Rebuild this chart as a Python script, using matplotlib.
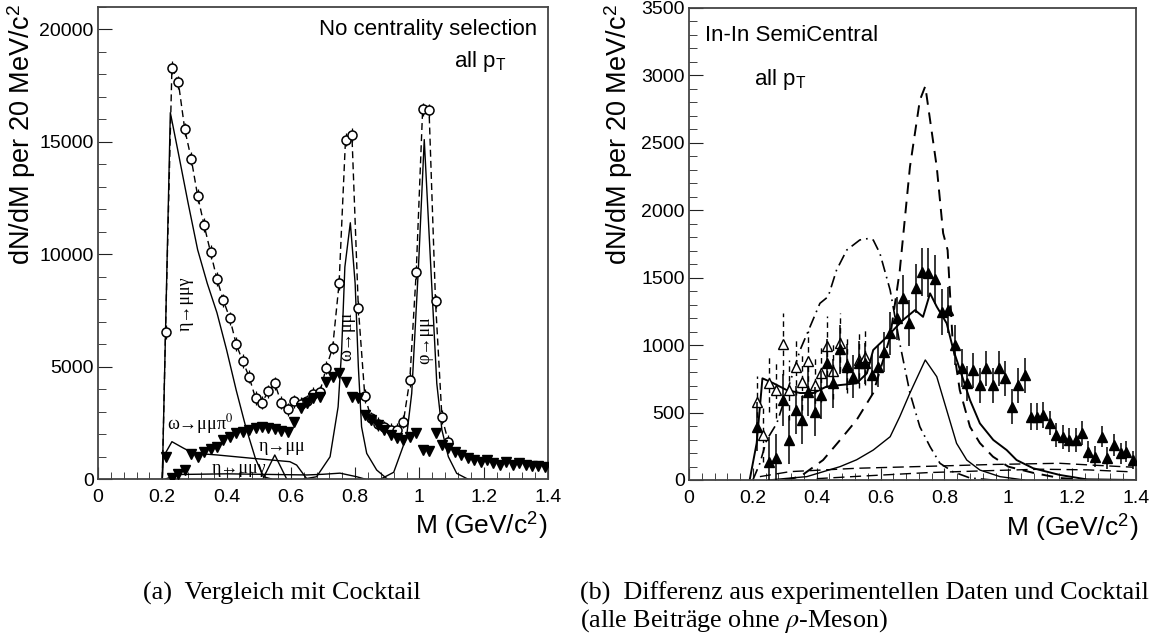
import matplotlib
matplotlib.use("Agg")
import matplotlib.pyplot as plt
from matplotlib.ticker import MultipleLocator

plt.rcParams["font.family"] = ["Liberation Sans", "DejaVu Sans"]
plt.rcParams["mathtext.fontset"] = "stix"

# ---------------- panel (a): data vs cocktail ----------------
m_a = [0.21, 0.23, 0.25, 0.27, 0.29, 0.31, 0.33, 0.35, 0.37, 0.39,
       0.41, 0.43, 0.45, 0.47, 0.49, 0.51, 0.53, 0.55, 0.57, 0.59,
       0.61, 0.63, 0.65, 0.67, 0.69, 0.71, 0.73, 0.75, 0.77, 0.79,
       0.81, 0.83, 0.85, 0.87, 0.89, 0.91, 0.93, 0.95, 0.97, 0.99,
       1.01, 1.03, 1.05, 1.07, 1.09]
cocktail_a = [6550, 18300, 17650, 15550, 14250, 12600, 11300, 10100, 8900, 7950,
              7150, 6000, 5250, 4550, 3600, 3400, 3900, 4250, 3400, 3100,
              3450, 3350, 3450, 3800, 3850, 4950, 5850, 8700, 15100, 15300,
              7600, 3700, 2700, 2450, 2300, 2200, 2200, 2550, 4400, 9200,
              16450, 16400, 7900, 2750, 1650]

m_diff_a = [0.21, 0.23, 0.25, 0.27, 0.29, 0.31, 0.33, 0.35, 0.37, 0.39,
            0.41, 0.43, 0.45, 0.47, 0.49, 0.51, 0.53, 0.55, 0.57, 0.59,
            0.61, 0.63, 0.65, 0.67, 0.69, 0.71, 0.73, 0.75, 0.77, 0.79,
            0.81, 0.83, 0.85, 0.87, 0.89, 0.91, 0.93, 0.95, 0.97, 0.99,
            1.01, 1.03, 1.05, 1.07, 1.09, 1.11, 1.13, 1.15, 1.17, 1.19,
            1.21, 1.23, 1.25, 1.27, 1.29, 1.31, 1.33, 1.35, 1.37, 1.39]
diff_a = [990, 60, 220, 400, 1110, 990, 1210, 1330, 1440, 1730,
          1880, 2060, 2100, 2180, 2250, 2330, 2260, 2220, 2150, 2100,
          2550, 3140, 3370, 3600, 3660, 4320, 4550, 4700, 4320, 3660,
          3590, 2840, 2620, 2400, 2180, 1960, 1810, 1730, 1880, 2030,
          1290, 1250, 2030, 1510, 1360, 1210, 1070, 920, 840, 770,
          840, 700, 620, 770, 620, 700, 620, 590, 560, 520]

m_eta_dal = [0.20, 0.225, 0.25, 0.28, 0.31, 0.34, 0.37, 0.40, 0.43, 0.46, 0.49, 0.515, 0.54]
eta_dal = [0, 16300, 14500, 12300, 10200, 8700, 7400, 5750, 3950, 2300, 900, 100, 0]

m_omega_dal = [0.20, 0.203, 0.23, 0.265, 0.296, 0.37, 0.473, 0.597, 0.618, 0.65]
omega_dal = [0, 980, 1660, 1380, 1150, 1070, 930, 770, 620, 0]

m_eta_mumu = [0.513, 0.55, 0.587]
eta_mumu = [0, 1070, 0]

m_omega_mumu = [0.64, 0.68, 0.722, 0.747, 0.758, 0.768, 0.785, 0.80, 0.81, 0.82, 0.836, 0.867, 0.90]
omega_mumu = [0, 100, 990, 3210, 5730, 9430, 11400, 8700, 4990, 2320, 1140, 400, 0]

m_phi_mumu = [0.88, 0.92, 0.96, 0.976, 0.986, 0.997, 1.015, 1.038, 1.054, 1.07, 1.09, 1.116, 1.15]
phi_mumu = [0, 300, 1880, 3810, 6480, 9430, 15100, 8700, 4250, 2180, 990, 250, 0]

m_rho_a = [0.21, 0.25, 0.40, 0.55, 0.65, 0.70, 0.753, 0.805, 0.83]
rho_a = [0, 200, 230, 200, 180, 210, 260, 100, 0]

# ---------------- panel (b): difference data - cocktail ----------------
m_open_b = [0.212, 0.231, 0.252, 0.272, 0.293, 0.314, 0.335, 0.353, 0.374,
            0.395, 0.412, 0.431, 0.452, 0.473, 0.494, 0.533, 0.551]
open_b = [581, 334, 717, 667, 1008, 667, 840, 729, 882,
          704, 791, 993, 810, 1018, 852, 890, 914]
open_b_err = [190, 200, 210, 210, 230, 220, 210, 210, 220,
              210, 210, 220, 210, 220, 210, 210, 210]

m_full_b = [0.212, 0.252, 0.272, 0.293, 0.314, 0.335, 0.353, 0.374, 0.395,
            0.412, 0.431, 0.452, 0.473, 0.494, 0.515, 0.533, 0.551, 0.572,
            0.593, 0.611, 0.63, 0.65, 0.669, 0.69, 0.711, 0.729, 0.75,
            0.771, 0.791, 0.812, 0.833, 0.854, 0.872, 0.89, 0.911, 0.93,
            0.951, 0.972, 0.99, 1.011, 1.031, 1.052, 1.07, 1.091, 1.11,
            1.13, 1.151, 1.17, 1.19, 1.212, 1.23, 1.25, 1.272, 1.292,
            1.31, 1.331, 1.352, 1.37, 1.392]
full_b = [395, 136, 161, 593, 297, 519, 445, 655, 507,
          630, 865, 717, 969, 835, 766, 870, 865, 778,
          840, 951, 1087, 1198, 1347, 1162, 1421, 1544, 1537,
          1488, 1248, 1260, 1001, 828, 717, 815, 704, 828,
          704, 828, 754, 543, 704, 778, 469, 469, 482,
          420, 334, 321, 297, 297, 346, 210, 173, 321,
          161, 259, 198, 210, 148]
full_b_err = [180, 180, 180, 190, 180, 180, 180, 180, 180,
              180, 180, 180, 180, 170, 160, 160, 150, 150,
              150, 150, 160, 160, 170, 170, 180, 180, 180,
              180, 170, 170, 150, 140, 130, 130, 130, 130,
              130, 130, 130, 130, 130, 130, 100, 100, 100,
              90, 90, 90, 90, 90, 90, 80, 80, 80,
              80, 80, 80, 80, 70]

m_sum_b = [0.19, 0.212, 0.23, 0.263, 0.306, 0.348, 0.39, 0.43, 0.473, 0.525,
           0.557, 0.577, 0.62, 0.67, 0.708, 0.733, 0.755, 0.776, 0.807, 0.828,
           0.849, 0.88, 0.911, 0.953, 0.995, 1.026, 1.078, 1.162, 1.245, 1.4]
sum_b = [0, 274, 754, 719, 667, 645, 645, 692, 704, 717,
         791, 964, 1062, 1186, 1260, 1210, 1384, 1285, 1162, 964,
         815, 593, 420, 297, 222, 148, 87, 37, 5, 0]

m_rho_vac = [0.25, 0.306, 0.369, 0.473, 0.525, 0.577, 0.63, 0.66, 0.692, 0.74,
             0.776, 0.807, 0.838, 0.87, 0.911, 0.974, 1.05]
rho_vac = [0, 12, 25, 99, 150, 222, 321, 469, 645, 890,
           766, 519, 272, 148, 74, 25, 0]

m_rho_cock = [0.30, 0.348, 0.42, 0.473, 0.525, 0.577, 0.63, 0.66, 0.692, 0.723,
              0.74, 0.776, 0.796, 0.81, 0.826, 0.848, 0.88, 0.911, 0.952, 1.0,
              1.08, 1.16, 1.25]
rho_cock = [0, 25, 148, 296, 445, 645, 1062, 1550, 2322, 2816,
            2920, 2320, 1830, 1705, 1015, 667, 395, 274, 173, 99,
            52, 15, 0]

m_rho_med = [0.20, 0.222, 0.243, 0.275, 0.306, 0.348, 0.379, 0.41, 0.436, 0.462,
             0.494, 0.535, 0.56, 0.577, 0.598, 0.63, 0.66, 0.692, 0.723, 0.755,
             0.786, 0.826, 0.88, 0.95]
rho_med = [0, 124, 296, 420, 645, 964, 1136, 1310, 1360, 1556,
           1705, 1780, 1790, 1780, 1680, 1408, 1015, 645, 395, 247,
           124, 62, 15, 0]

m_flat1_b = [0.222, 0.316, 0.525, 0.786, 0.95, 1.16, 1.266, 1.39]
flat1_b = [25, 62, 87, 104, 115, 124, 110, 95]

m_flat2_b = [0.40, 0.55, 0.75, 0.95, 1.10, 1.25, 1.39]
flat2_b = [10, 30, 55, 70, 80, 75, 60]


def style_axes(ax, ymax, ymajor, yminor):
    ax.set_xlim(0, 1.4)
    ax.set_ylim(0, ymax)
    ax.xaxis.set_major_locator(MultipleLocator(0.2))
    ax.xaxis.set_minor_locator(MultipleLocator(0.04))
    ax.yaxis.set_major_locator(MultipleLocator(ymajor))
    ax.yaxis.set_minor_locator(MultipleLocator(yminor))
    ax.xaxis.set_major_formatter(plt.FuncFormatter(lambda v, p: f"{v:g}"))
    ax.tick_params(which="both", direction="in", top=False, right=False,
                   labelsize=14, color="#222222")
    ax.tick_params(axis="y", which="major", length=10, pad=3)
    ax.tick_params(axis="y", which="minor", length=6)
    ax.tick_params(axis="x", which="major", length=9, pad=7)
    ax.tick_params(axis="x", which="minor", length=5)
    for s in ax.spines.values():
        s.set_color("#444444")
        s.set_linewidth(1.3)


W, H = 1158, 634
fig = plt.figure(figsize=(W / 100, H / 100), dpi=100)

axa = fig.add_axes([98 / W, 1 - 479 / H, 450 / W, 472 / H])
axb = fig.add_axes([689 / W, 1 - 480 / H, 447 / W, 472 / H])

# panel (a)
lk = dict(color="black", lw=1.0)
axa.plot([0.20] + m_a, [0] + cocktail_a, ls=(0, (5, 3)), **lk)
axa.plot(m_eta_dal, eta_dal, **lk)
axa.plot(m_omega_dal, omega_dal, **lk)
axa.plot(m_eta_mumu, eta_mumu, **lk)
axa.plot(m_omega_mumu, omega_mumu, **lk)
axa.plot(m_phi_mumu, phi_mumu, **lk)
axa.plot(m_rho_a, rho_a, **lk)
axa.errorbar(m_a, cocktail_a, yerr=300, fmt="o", ms=6.5, mfc="white", mec="black",
             mew=1.1, ecolor="black", elinewidth=0.9, capsize=0, zorder=4)
axa.plot(m_diff_a, diff_a, "v", ms=7.5, color="black", zorder=5)
style_axes(axa, 21000, 5000, 1000)

tk = dict(fontsize=13, family=["Liberation Serif", "DejaVu Serif"])
axa.text(0.27, 7800, "η→μμγ", rotation=90, ha="center", va="center", **tk)
axa.text(0.774, 6350, "ω→μμ", rotation=90, ha="center", va="center", **tk)
axa.text(1.017, 6200, "φ→μμ", rotation=90, ha="center", va="center", **tk)
axa.text(0.215, 2450, "ω→μμπ$^0$", ha="left", va="center", **tk)
axa.text(0.50, 1430, "η→μμ", ha="left", va="center", **tk)
axa.text(0.355, 480, "η→μμγ", ha="left", va="center", **tk)
axa.text(0.975, 0.975, "No centrality selection", transform=axa.transAxes,
         ha="right", va="top", fontsize=16)
axa.text(0.79, 0.91, "all p$_\\mathregular{T}$", transform=axa.transAxes,
         ha="left", va="top", fontsize=16)

# panel (b)
axb.plot(m_sum_b, sum_b, color="black", lw=1.4)
axb.plot(m_rho_vac, rho_vac, color="black", lw=1.0)
axb.plot(m_rho_cock, rho_cock, color="black", lw=1.4, ls=(0, (6, 4)))
axb.plot(m_rho_med, rho_med, color="black", lw=1.2, ls=(0, (7, 3, 1, 3)))
axb.plot(m_flat1_b, flat1_b, color="black", lw=1.0, ls=(0, (8, 4)))
axb.plot(m_flat2_b, flat2_b, color="black", lw=1.0, ls=(0, (8, 4)))
eb = axb.errorbar(m_open_b, open_b, yerr=open_b_err, fmt="^", ms=7, mfc="white",
                  mec="black", mew=1.0, ecolor="black", elinewidth=1.0, capsize=0,
                  zorder=4)
eb[2][0].set_linestyle((0, (4, 3)))
axb.errorbar(m_full_b, full_b, yerr=full_b_err, fmt="^", ms=7.5, color="black",
             elinewidth=1.1, capsize=0, zorder=5)
style_axes(axb, 3500, 500, 100)
axb.text(0.035, 0.965, "In-In SemiCentral", transform=axb.transAxes,
         ha="left", va="top", fontsize=16)
axb.text(0.145, 0.875, "all p$_\\mathregular{T}$", transform=axb.transAxes,
         ha="left", va="top", fontsize=16)

# axis titles (ROOT style, placed at the ends of the axes)
ylab = "dN/dM per 20 MeV/c$^\\mathregular{2}$"
xlab = "M (GeV/c$^\\mathregular{2}$)"
fig.text(22 / W, 1 - 4 / H, ylab, rotation=90, ha="center", va="top", fontsize=19.5)
fig.text(619 / W, 1 - 4 / H, ylab, rotation=90, ha="center", va="top", fontsize=19.5)
fig.text(548 / W, 1 - 525 / H, xlab, ha="right", va="center", fontsize=19)
fig.text(1139 / W, 1 - 527 / H, xlab, ha="right", va="center", fontsize=19)

# sub-figure captions
ck = dict(fontsize=18.8, family=["Liberation Serif", "DejaVu Serif"], va="center")
fig.text(143 / W, 1 - 593 / H, "(a)  Vergleich mit Cocktail", ha="left", **ck)
fig.text(580 / W, 1 - 593 / H, "(b)  Differenz aus experimentellen Daten und Cocktail",
         ha="left", **ck)
fig.text(580 / W, 1 - 621 / H, "(alle Beiträge ohne $\\rho$-Meson)", ha="left", **ck)

fig.savefig("out.png", dpi=100)
